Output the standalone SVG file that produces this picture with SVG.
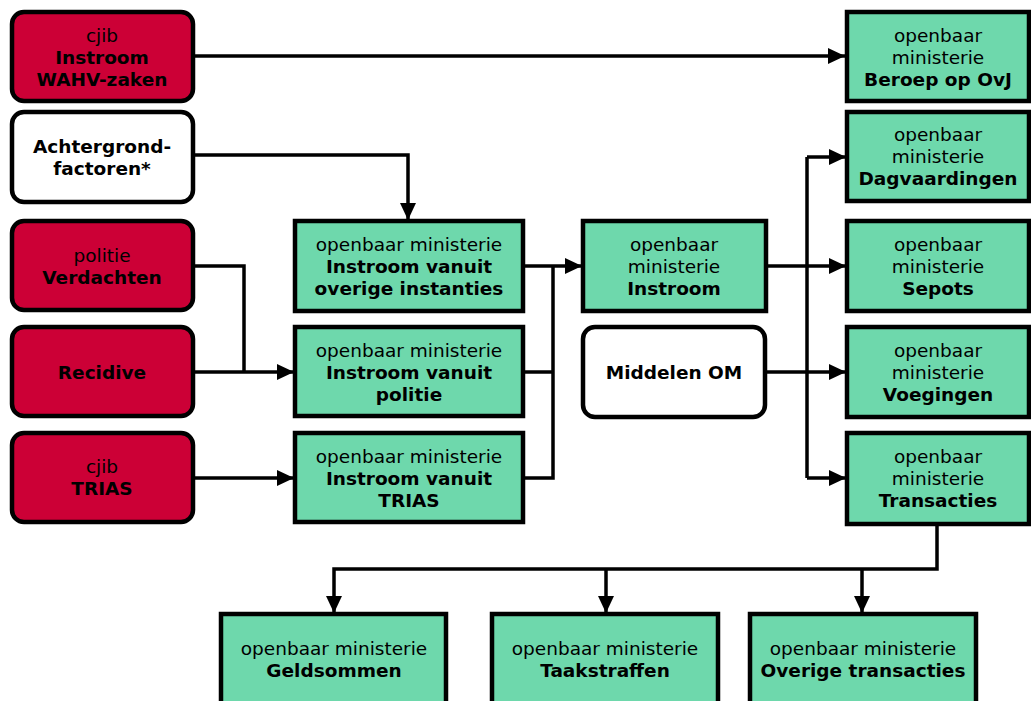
<svg xmlns="http://www.w3.org/2000/svg" width="1031" height="701" viewBox="0 0 1031 701">
<defs>
<style>
.red{fill:#CC0036;stroke:#000;stroke-width:4.5}
.wht{fill:#fff;stroke:#000;stroke-width:4.5}
.grn{fill:#6ED8AC;stroke:#000;stroke-width:4.5}
text{font-family:"DejaVu Sans",Verdana,sans-serif;font-size:18.5px;fill:#000;text-anchor:middle}
.b{font-weight:bold}
.c{stroke:#000;stroke-width:3.5;fill:none}
</style>
<marker id="ah" markerWidth="17" markerHeight="16" refX="17" refY="8" orient="auto" markerUnits="userSpaceOnUse">
<path d="M0,0 L17,8 L0,16 Z" fill="#000"/>
</marker>
</defs>
<g id="connectors">
<path class="c" d="M194,56 H845" marker-end="url(#ah)"/>
<path class="c" d="M194,155 H408 V220" marker-end="url(#ah)"/>
<path class="c" d="M194,266 H244 V372"/>
<path class="c" d="M194,372 H294" marker-end="url(#ah)"/>
<path class="c" d="M194,478 H294" marker-end="url(#ah)"/>
<path class="c" d="M523,266 H553"/>
<path class="c" d="M523,372 H553"/>
<path class="c" d="M523,478 H553 V266"/>
<path class="c" d="M553,266 H582" marker-end="url(#ah)"/>
<path class="c" d="M766,266 H846" marker-end="url(#ah)"/>
<path class="c" d="M766,372 H846" marker-end="url(#ah)"/>
<path class="c" d="M807,157 V478"/>
<path class="c" d="M807,157 H846" marker-end="url(#ah)"/>
<path class="c" d="M807,478 H846" marker-end="url(#ah)"/>
<path class="c" d="M937,525 V569 H334 V613" marker-end="url(#ah)"/>
<path class="c" d="M606,569 V613" marker-end="url(#ah)"/>
<path class="c" d="M862,569 V613" marker-end="url(#ah)"/>
</g>
<g id="n-wahv"><rect class="red" x="12" y="12" width="181" height="89" rx="12"/><text x="102" y="42">cjib</text><text class="b" x="102" y="64">Instroom</text><text class="b" x="102" y="86">WAHV-zaken</text></g>
<g id="n-achtergrond"><rect class="wht" x="12" y="112" width="181" height="90" rx="12"/><text class="b" x="102" y="153">Achtergrond-</text><text class="b" x="102" y="175">factoren*</text></g>
<g id="n-politie"><rect class="red" x="12" y="221" width="181" height="89" rx="12"/><text x="102" y="262">politie</text><text class="b" x="102" y="284">Verdachten</text></g>
<g id="n-recidive"><rect class="red" x="12" y="327" width="181" height="89" rx="12"/><text class="b" x="102" y="379">Recidive</text></g>
<g id="n-trias"><rect class="red" x="12" y="433" width="181" height="89" rx="12"/><text x="102" y="473">cjib</text><text class="b" x="102" y="495">TRIAS</text></g>
<g id="n-overige"><rect class="grn" x="295" y="221" width="228" height="90"/><text x="409" y="251">openbaar ministerie</text><text class="b" x="409" y="273">Instroom vanuit</text><text class="b" x="409" y="295">overige instanties</text></g>
<g id="n-vpolitie"><rect class="grn" x="295" y="327" width="228" height="89"/><text x="409" y="357">openbaar ministerie</text><text class="b" x="409" y="379">Instroom vanuit</text><text class="b" x="409" y="401">politie</text></g>
<g id="n-vtrias"><rect class="grn" x="295" y="433" width="228" height="89"/><text x="409" y="463">openbaar ministerie</text><text class="b" x="409" y="485">Instroom vanuit</text><text class="b" x="409" y="507">TRIAS</text></g>
<g id="n-instroom"><rect class="grn" x="583" y="221" width="183" height="90"/><text x="674" y="251">openbaar</text><text x="674" y="273">ministerie</text><text class="b" x="674" y="295">Instroom</text></g>
<g id="n-middelen"><rect class="wht" x="583" y="327" width="182" height="90" rx="12"/><text class="b" x="674" y="379">Middelen OM</text></g>
<g id="n-beroep"><rect class="grn" x="847" y="12" width="182" height="89"/><text x="938" y="42">openbaar</text><text x="938" y="64">ministerie</text><text class="b" x="938" y="86">Beroep op OvJ</text></g>
<g id="n-dagv"><rect class="grn" x="847" y="112" width="182" height="89"/><text x="938" y="141">openbaar</text><text x="938" y="163">ministerie</text><text class="b" x="938" y="185">Dagvaardingen</text></g>
<g id="n-sepots"><rect class="grn" x="847" y="221" width="182" height="90"/><text x="938" y="251">openbaar</text><text x="938" y="273">ministerie</text><text class="b" x="938" y="295">Sepots</text></g>
<g id="n-voegingen"><rect class="grn" x="847" y="327" width="182" height="90"/><text x="938" y="357">openbaar</text><text x="938" y="379">ministerie</text><text class="b" x="938" y="401">Voegingen</text></g>
<g id="n-transacties"><rect class="grn" x="847" y="433" width="182" height="91"/><text x="938" y="463">openbaar</text><text x="938" y="485">ministerie</text><text class="b" x="938" y="507">Transacties</text></g>
<g id="n-geldsommen"><rect class="grn" x="221" y="614" width="225" height="92"/><text x="334" y="655">openbaar ministerie</text><text class="b" x="334" y="677">Geldsommen</text></g>
<g id="n-taakstraffen"><rect class="grn" x="492" y="614" width="226" height="92"/><text x="605" y="655">openbaar ministerie</text><text class="b" x="605" y="677">Taakstraffen</text></g>
<g id="n-overigetr"><rect class="grn" x="750" y="614" width="226" height="92"/><text x="863" y="655">openbaar ministerie</text><text class="b" x="863" y="677">Overige transacties</text></g>
</svg>
